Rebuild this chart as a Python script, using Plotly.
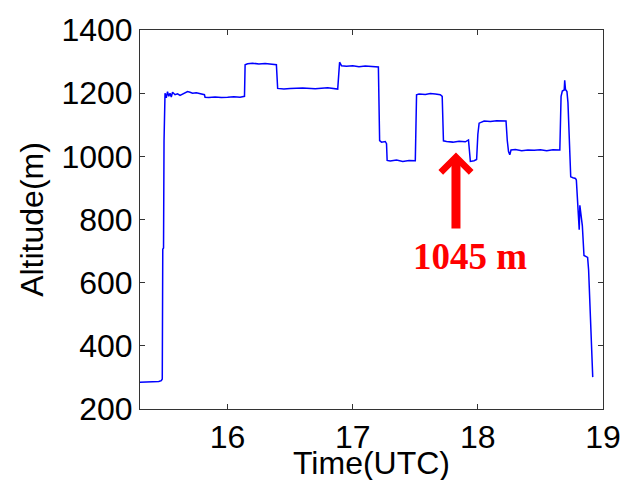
import plotly.graph_objects as go

# Flight altitude record (time in decimal hours UTC, altitude in metres)
time_utc = [
    15.30, 15.40, 15.43, 15.45, 15.47, 15.478,
    15.482, 15.488, 15.492, 15.497, 15.50,
    15.51, 15.52, 15.53, 15.54, 15.55, 15.56, 15.58, 15.60, 15.62, 15.65,
    15.68, 15.70, 15.72, 15.75, 15.78, 15.80, 15.815,
    15.82, 15.85, 15.90, 15.95, 16.00, 16.05, 16.10, 16.135,
    16.14, 16.16, 16.20, 16.25, 16.30, 16.35, 16.39,
    16.40, 16.45, 16.50, 16.60, 16.70, 16.80, 16.88,
    16.89, 16.895, 16.91, 16.95, 17.00, 17.05, 17.10, 17.15, 17.205,
    17.215, 17.23, 17.26, 17.27, 17.275,
    17.30, 17.35, 17.40, 17.45, 17.50,
    17.51, 17.53, 17.58, 17.62, 17.66, 17.70, 17.715,
    17.725, 17.75, 17.80, 17.85, 17.90, 17.925,
    17.935, 17.94, 17.97, 17.99,
    18.00, 18.01, 18.05, 18.10, 18.15, 18.20, 18.225,
    18.235, 18.245, 18.255, 18.265, 18.30, 18.35, 18.40, 18.45, 18.50,
    18.55, 18.60, 18.655,
    18.665, 18.675, 18.69, 18.694, 18.70, 18.712, 18.72, 18.73,
    18.742, 18.76, 18.78, 18.787, 18.795, 18.80, 18.805, 18.81,
    18.815, 18.825, 18.835, 18.848, 18.86, 18.877, 18.885, 18.897,
    18.903, 18.912, 18.918,
]
altitude_m = [
    285, 286, 288, 287, 290, 295,
    706, 710, 1049, 1180, 1200,
    1185, 1205, 1190, 1200, 1188, 1203, 1195, 1198, 1193, 1200,
    1205, 1203, 1200, 1201, 1199, 1197, 1195,
    1187, 1186, 1188, 1186, 1187, 1189, 1187, 1190,
    1290, 1293, 1295, 1292, 1294, 1293, 1290,
    1215, 1213, 1215, 1216, 1214, 1217, 1213,
    1288, 1298, 1287, 1285, 1287, 1284, 1286, 1285, 1283,
    1050, 1045, 1047, 1040, 987,
    985, 988, 984, 987, 986,
    1195, 1197, 1196, 1199, 1197, 1195, 1190,
    1049, 1047, 1045, 1048, 1046, 1052,
    1000, 984, 986, 990,
    1070, 1105, 1112, 1110, 1113, 1111, 1112,
    1050, 1015, 1005, 1020, 1022, 1018, 1020, 1019, 1021,
    1018, 1021, 1020,
    1190, 1207, 1210, 1241, 1212, 1205, 1170, 1060,
    935, 932, 930, 925, 851, 840, 800, 768,
    845, 811, 780, 686, 683, 680, 640, 519,
    452, 353, 301,
]

x_ticks = [16, 17, 18, 19]
y_ticks = [200, 400, 600, 800, 1000, 1200, 1400]

# Highlighted level and where the arrow points to it
marked_time = 17.825
marked_level = 1045
label_text = f"{marked_level} m"

sans = "Liberation Sans, Arial, sans-serif"

fig = go.Figure()
fig.add_trace(go.Scatter(
    x=time_utc, y=altitude_m, mode="lines",
    line=dict(color="#0000FF", width=1.5),
    showlegend=False,
))

axis_common = dict(
    showline=True, linecolor="#333333", linewidth=1, mirror="ticks",
    ticks="inside", ticklen=5, tickcolor="#333333", tickwidth=1,
    showgrid=False, zeroline=False,
    tickfont=dict(family=sans, size=32, color="black"),
)

fig.update_layout(
    width=633, height=480,
    margin=dict(l=140, r=20, t=24, b=71),
    paper_bgcolor="white", plot_bgcolor="white",
    xaxis=dict(
        range=[15.3, 19], tickvals=x_ticks, ticktext=[str(v) for v in x_ticks],
        ticklabelstandoff=0,
        **axis_common,
    ),
    yaxis=dict(
        range=[200, 1400], tickvals=y_ticks, ticktext=[str(v) for v in y_ticks],
        ticklabelstandoff=0,
        title=dict(text="Altitude(m)", standoff=8,
                   font=dict(family=sans, size=32, color="black")),
        **axis_common,
    ),
)

# x-axis title placed snugly under the tick labels, near the bottom edge
fig.add_annotation(
    x=0.5, y=-0.192, xref="paper", yref="paper",
    text="Time(UTC)", showarrow=False, xanchor="center", yanchor="bottom",
    borderpad=0,
    font=dict(family=sans, size=32, color="black"),
)

# Red arrow pointing up at the marked level
fig.add_annotation(
    x=marked_time, y=marked_level - 33,
    ax=marked_time, ay=marked_level - 278,
    xref="x", yref="y", axref="x", ayref="y",
    text="", showarrow=True,
    arrowhead=4, arrowsize=0.65, arrowwidth=9, arrowcolor="#FF0000",
)
fig.add_annotation(
    x=marked_time + 0.115, y=marked_level - 362,
    xref="x", yref="y", text=f"<b>{label_text}</b>", showarrow=False,
    font=dict(family="Liberation Serif, Times New Roman, serif", size=37, color="#FF0000"),
)

fig.write_html("out.html")
